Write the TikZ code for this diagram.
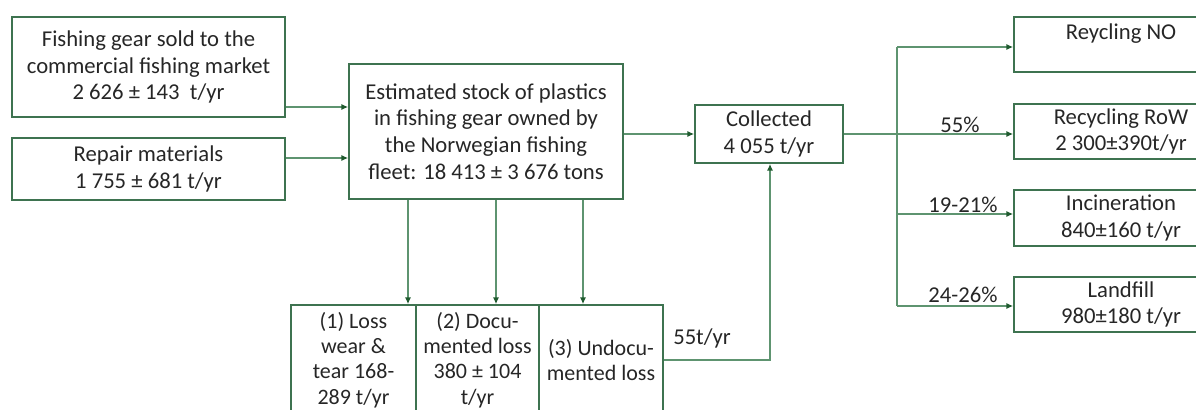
\documentclass[tikz,border=0pt]{standalone}
\usepackage{fontspec}
\setmainfont{Carlito}
\usetikzlibrary{arrows.meta}
\definecolor{boxgreen}{HTML}{3E7350}
\definecolor{linegreen}{HTML}{5E9470}
\definecolor{tipgreen}{HTML}{1F5A2E}
\definecolor{txt}{HTML}{262626}
\tikzset{
  stockbox/.style={draw=boxgreen, line width=1.3pt, align=center, text=txt,
    font=\fontsize{17}{20}\selectfont, inner sep=0pt},
  lossbox/.style={stockbox, font=\fontsize{16.5}{19}\selectfont},
  flow/.style={draw=linegreen, line width=0.9pt},
  arr/.style={flow, -{Latex[length=5pt,width=4.5pt,color=tipgreen]}},
  lbl/.style={text=txt, font=\fontsize{17}{20}\selectfont, inner sep=0pt}
}
\begin{document}
\begin{tikzpicture}[x=0.75pt, y=-0.75pt]
\useasboundingbox (0,0) rectangle (1196,410);
\clip (0,0) rectangle (1196,410);
% boxes
\node[stockbox, minimum width=273*0.75pt, minimum height=100*0.75pt] (gear) at (148.5,67)
  {Fishing gear sold to the\\commercial fishing market\\2 626 ± 143\ \ t/yr};
\node[stockbox, minimum width=273*0.75pt, minimum height=62*0.75pt] (repair) at (148.5,169)
  {Repair materials\\1 755 ± 681 t/yr};
\node[stockbox, minimum width=274*0.75pt, minimum height=135*0.75pt] (stock) at (486,131.5)
  {Estimated stock of plastics\\in fishing gear owned by\\the Norwegian fishing\\fleet: 18 413 ± 3 676 tons};
\node[stockbox, minimum width=148*0.75pt, minimum height=58*0.75pt] (coll) at (769,134)
  {Collected\\4 055 t/yr};
\node[stockbox, minimum width=214*0.75pt, minimum height=55*0.75pt] (rno) at (1121,44.5)
  {Reycling NO\\\mbox{}};
\node[stockbox, minimum width=214*0.75pt, minimum height=55*0.75pt] (rrow) at (1121,131.5)
  {Recycling RoW\\2 300±390t/yr};
\node[stockbox, minimum width=214*0.75pt, minimum height=56*0.75pt] (inc) at (1121,218)
  {Incineration\\840±160 t/yr};
\node[stockbox, minimum width=214*0.75pt, minimum height=55*0.75pt] (land) at (1121,304.5)
  {Landfill\\980±180 t/yr};
\node[lossbox, minimum width=125*0.75pt, minimum height=110*0.75pt] (l1) at (353.5,360)
  {(1) Loss\\wear \&\\tear 168-\\289 t/yr};
\node[lossbox, minimum width=123*0.75pt, minimum height=110*0.75pt] (l2) at (477.5,360)
  {(2) Docu-\\mented loss\\380 ± 104\\t/yr};
\node[lossbox, minimum width=124*0.75pt, minimum height=110*0.75pt] (l3) at (601,360)
  {(3) Undocu-\\mented loss};
% coordinates
\coordinate (tTop) at (897,47);
\coordinate (tInc) at (897,214);
\coordinate (tLand) at (897,306);
\coordinate (bend) at (770,360);
% connectors
\draw[arr] (gear.east |- 0,107) -- (stock.west |- 0,107);
\draw[arr] (repair.east |- 0,158) -- (stock.west |- 0,158);
\draw[arr] (stock.east |- 0,134) -- (coll.west |- 0,134);
\draw[arr] (stock.south -| 408,0) -- (l1.north -| 408,0);
\draw[arr] (stock.south -| 496,0) -- (l2.north -| 496,0);
\draw[arr] (stock.south -| 583,0) -- (l3.north -| 583,0);
\draw[arr] (l3.east) -- (bend) -- (coll.south -| bend);
\draw[arr] (coll.east) -- (rrow.west |- coll.east);
\draw[flow] (tTop) -- (tLand);
\draw[arr] (tTop) -- (rno.west |- tTop);
\draw[arr] (tInc) -- (inc.west |- tInc);
\draw[arr] (tLand) -- (land.west |- tLand);
% labels
\node[lbl] (p55) at (960,125) {55\%};
\node[lbl] (p19) at (963,205) {19-21\%};
\node[lbl] (p24) at (963,295) {24-26\%};
\node[lbl] (t55) at (702,338) {55t/yr};
\end{tikzpicture}
\end{document}
